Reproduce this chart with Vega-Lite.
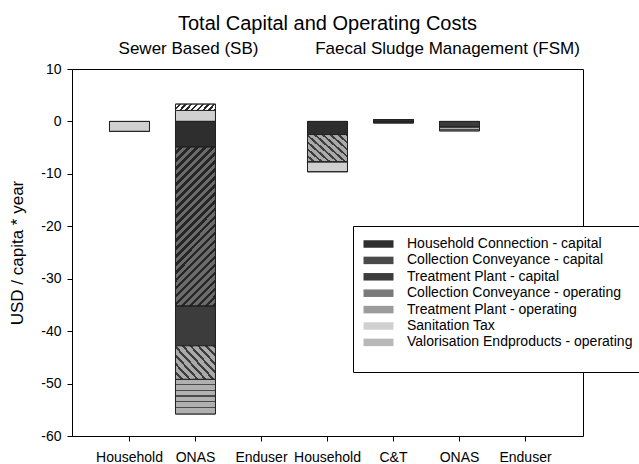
{
  "$schema": "https://vega.github.io/schema/vega-lite/v6.json",
  "width": 511,
  "height": 367,
  "autosize": {"type": "none"},
  "padding": {"left": 72, "top": 69, "right": 56, "bottom": 28},
  "background": "white",
  "config": {
    "font": "Liberation Sans",
    "view": {"stroke": "black", "strokeWidth": 1},
    "axis": {"domainColor": "black", "tickColor": "black", "labelColor": "black", "titleColor": "black", "grid": false, "labelFontSize": 14, "labelFont": "Liberation Sans", "titleFont": "Liberation Sans", "titleFontWeight": "normal"}
  },
  "title": {"text": "Total Capital and Operating Costs", "fontSize": 20, "fontWeight": "normal", "font": "Liberation Sans", "anchor": "middle", "offset": 6, "color": "black"},
  "datasets": {
    "costs": [
      {"cat": "SB Household", "comp": "Sanitation Tax", "ord": 6, "value": -1.9},
      {"cat": "SB ONAS", "comp": "Household Connection - capital", "ord": 1, "value": -4.9},
      {"cat": "SB ONAS", "comp": "Collection Conveyance - capital", "ord": 2, "value": -30.3},
      {"cat": "SB ONAS", "comp": "Treatment Plant - capital", "ord": 3, "value": -7.6},
      {"cat": "SB ONAS", "comp": "Collection Conveyance - operating", "ord": 4, "value": -6.4},
      {"cat": "SB ONAS", "comp": "Treatment Plant - operating", "ord": 5, "value": -6.6},
      {"cat": "SB ONAS", "comp": "Sanitation Tax", "ord": 6, "value": 2.1},
      {"cat": "SB ONAS", "comp": "Valorisation Endproducts - operating", "ord": 7, "value": 1.2},
      {"cat": "FSM Household", "comp": "Household Connection - capital", "ord": 1, "value": -2.5},
      {"cat": "FSM Household", "comp": "Collection Conveyance - operating", "ord": 4, "value": -5.2},
      {"cat": "FSM Household", "comp": "Sanitation Tax", "ord": 6, "value": -1.9},
      {"cat": "FSM C&T", "comp": "Treatment Plant - capital", "ord": 3, "value": 0.35},
      {"cat": "FSM C&T", "comp": "Treatment Plant - capital", "ord": 3, "value": -0.3},
      {"cat": "FSM ONAS", "comp": "Treatment Plant - capital", "ord": 3, "value": -1.1},
      {"cat": "FSM ONAS", "comp": "Treatment Plant - operating", "ord": 5, "value": -0.7}
    ]
  },
  "layer": [
    {
      "data": {"name": "costs"},
      "mark": {"type": "bar", "stroke": "#222222", "strokeWidth": 1},
      "encoding": {
        "x": {
          "field": "cat", "type": "nominal",
          "scale": {"domain": ["SB Household", "SB ONAS", "SB Enduser", "FSM Household", "FSM C&T", "FSM ONAS", "FSM Enduser"], "paddingInner": 0.394, "paddingOuter": 0.568},
          "axis": {"title": null, "labelAngle": 0, "labelExpr": "split(datum.value, ' ')[1]", "tickSize": 5, "labelPadding": 9, "domain": false}
        },
        "y": {
          "field": "value", "type": "quantitative", "stack": "zero",
          "scale": {"domain": [-60, 10], "nice": false},
          "axis": {"title": "USD / capita * year", "titleFontSize": 17, "values": [-60, -50, -40, -30, -20, -10, 0, 10], "labelExpr": "datum.value + ''", "tickSize": 5, "labelPadding": 6, "titlePadding": 14}
        },
        "color": {
          "field": "comp", "type": "nominal",
          "scale": {
            "domain": ["Household Connection - capital", "Collection Conveyance - capital", "Treatment Plant - capital", "Collection Conveyance - operating", "Treatment Plant - operating", "Sanitation Tax", "Valorisation Endproducts - operating"],
            "range": ["#2e2e2e", "#4a4a4a", "#3c3c3c", "#7a7a7a", "#9c9c9c", "#d0d0d0", "#b8b8b8"]
          },
          "legend": {
            "title": " ", "titleOrient": "bottom", "titleFontSize": 10, "titlePadding": 3,
            "orient": "none", "legendX": 281, "legendY": 157,
            "padding": 10, "strokeColor": "black", "fillColor": "white",
            "labelFontSize": 14, "labelFont": "Liberation Sans", "labelColor": "black", "labelLimit": 400,
            "symbolType": "M-2,-0.5H2V0.5H-2Z", "symbolSize": 225, "symbolStrokeColor": "#222222", "symbolStrokeWidth": 1, "symbolOpacity": 1,
            "symbolOffset": 7.5, "labelOffset": 20.5, "rowPadding": 1.4,
            "encode": {
              "symbols": {
                "update": {
                  "fill": {
                    "condition": [
                      {"test": "datum.value === 'Household Connection - capital'", "value": "#2e2e2e"},
                      {"test": "datum.value === 'Sanitation Tax'", "value": "#d0d0d0"},
                      {"test": "datum.value === 'Collection Conveyance - capital'", "value": {"gradient": "linear", "x1": 0, "y1": 0, "x2": 1.183, "y2": 0.315, "stops": [
                        {"offset": 0, "color": "#6b6b6b"}, {"offset": 0.092, "color": "#6b6b6b"}, {"offset": 0.092, "color": "#262626"}, {"offset": 0.167, "color": "#262626"},
                        {"offset": 0.167, "color": "#6b6b6b"}, {"offset": 0.258, "color": "#6b6b6b"}, {"offset": 0.258, "color": "#262626"}, {"offset": 0.333, "color": "#262626"},
                        {"offset": 0.333, "color": "#6b6b6b"}, {"offset": 0.425, "color": "#6b6b6b"}, {"offset": 0.425, "color": "#262626"}, {"offset": 0.5, "color": "#262626"},
                        {"offset": 0.5, "color": "#6b6b6b"}, {"offset": 0.592, "color": "#6b6b6b"}, {"offset": 0.592, "color": "#262626"}, {"offset": 0.667, "color": "#262626"},
                        {"offset": 0.667, "color": "#6b6b6b"}, {"offset": 0.758, "color": "#6b6b6b"}, {"offset": 0.758, "color": "#262626"}, {"offset": 0.833, "color": "#262626"},
                        {"offset": 0.833, "color": "#6b6b6b"}, {"offset": 0.925, "color": "#6b6b6b"}, {"offset": 0.925, "color": "#262626"}, {"offset": 1, "color": "#262626"}
                      ]}},
                      {"test": "datum.value === 'Collection Conveyance - operating'", "value": {"gradient": "linear", "x1": 0, "y1": 1, "x2": 1.183, "y2": 0.685, "stops": [
                        {"offset": 0, "color": "#a9a9a9"}, {"offset": 0.108, "color": "#a9a9a9"}, {"offset": 0.108, "color": "#3c3c3c"}, {"offset": 0.167, "color": "#3c3c3c"},
                        {"offset": 0.167, "color": "#a9a9a9"}, {"offset": 0.275, "color": "#a9a9a9"}, {"offset": 0.275, "color": "#3c3c3c"}, {"offset": 0.333, "color": "#3c3c3c"},
                        {"offset": 0.333, "color": "#a9a9a9"}, {"offset": 0.442, "color": "#a9a9a9"}, {"offset": 0.442, "color": "#3c3c3c"}, {"offset": 0.5, "color": "#3c3c3c"},
                        {"offset": 0.5, "color": "#a9a9a9"}, {"offset": 0.608, "color": "#a9a9a9"}, {"offset": 0.608, "color": "#3c3c3c"}, {"offset": 0.667, "color": "#3c3c3c"},
                        {"offset": 0.667, "color": "#a9a9a9"}, {"offset": 0.775, "color": "#a9a9a9"}, {"offset": 0.775, "color": "#3c3c3c"}, {"offset": 0.833, "color": "#3c3c3c"},
                        {"offset": 0.833, "color": "#a9a9a9"}, {"offset": 0.942, "color": "#a9a9a9"}, {"offset": 0.942, "color": "#3c3c3c"}, {"offset": 1, "color": "#3c3c3c"}
                      ]}},
                      {"test": "datum.value === 'Treatment Plant - operating'", "value": {"gradient": "linear", "x1": 0, "y1": 0, "x2": 0, "y2": 1, "stops": [
                        {"offset": 0, "color": "#b0b0b0"}, {"offset": 0.3, "color": "#b0b0b0"}, {"offset": 0.3, "color": "#4a4a4a"}, {"offset": 0.42, "color": "#4a4a4a"},
                        {"offset": 0.42, "color": "#b0b0b0"}, {"offset": 0.62, "color": "#b0b0b0"}, {"offset": 0.62, "color": "#4a4a4a"}, {"offset": 0.74, "color": "#4a4a4a"},
                        {"offset": 0.74, "color": "#b0b0b0"}, {"offset": 1, "color": "#b0b0b0"}
                      ]}},
                      {"test": "datum.value === 'Valorisation Endproducts - operating'", "value": {"gradient": "linear", "x1": 0, "y1": 0, "x2": 1.183, "y2": 0.315, "stops": [
                        {"offset": 0, "color": "#ffffff"}, {"offset": 0.1, "color": "#ffffff"}, {"offset": 0.1, "color": "#2a2a2a"}, {"offset": 0.167, "color": "#2a2a2a"},
                        {"offset": 0.167, "color": "#ffffff"}, {"offset": 0.267, "color": "#ffffff"}, {"offset": 0.267, "color": "#2a2a2a"}, {"offset": 0.333, "color": "#2a2a2a"},
                        {"offset": 0.333, "color": "#ffffff"}, {"offset": 0.433, "color": "#ffffff"}, {"offset": 0.433, "color": "#2a2a2a"}, {"offset": 0.5, "color": "#2a2a2a"},
                        {"offset": 0.5, "color": "#ffffff"}, {"offset": 0.6, "color": "#ffffff"}, {"offset": 0.6, "color": "#2a2a2a"}, {"offset": 0.667, "color": "#2a2a2a"},
                        {"offset": 0.667, "color": "#ffffff"}, {"offset": 0.767, "color": "#ffffff"}, {"offset": 0.767, "color": "#2a2a2a"}, {"offset": 0.833, "color": "#2a2a2a"},
                        {"offset": 0.833, "color": "#ffffff"}, {"offset": 0.933, "color": "#ffffff"}, {"offset": 0.933, "color": "#2a2a2a"}, {"offset": 1, "color": "#2a2a2a"}
                      ]}}
                    ],
                    "value": "#3c3c3c"
                  }
                }
              }
            }
          }
        },
        "order": {"field": "ord", "type": "quantitative"}
      }
    },
    {
      "data": {"name": "costs"},
      "mark": {"type": "bar", "stroke": "#222222", "strokeWidth": 1},
      "encoding": {
        "x": {"field": "cat", "type": "nominal"},
        "y": {"field": "value", "type": "quantitative", "stack": "zero"},
        "order": {"field": "ord", "type": "quantitative"},
        "fill": {
          "condition": [
            {"test": "datum.comp === 'Collection Conveyance - capital'", "value": {"gradient": "linear", "x1": 0, "y1": 0, "x2": 0.298, "y2": 1.178, "stops": [
                {"offset": 0, "color": "#6b6b6b"}, {"offset": 0.022, "color": "#6b6b6b"}, {"offset": 0.022, "color": "#262626"}, {"offset": 0.04, "color": "#262626"},
                {"offset": 0.04, "color": "#6b6b6b"}, {"offset": 0.062, "color": "#6b6b6b"}, {"offset": 0.062, "color": "#262626"}, {"offset": 0.08, "color": "#262626"},
                {"offset": 0.08, "color": "#6b6b6b"}, {"offset": 0.102, "color": "#6b6b6b"}, {"offset": 0.102, "color": "#262626"}, {"offset": 0.12, "color": "#262626"},
                {"offset": 0.12, "color": "#6b6b6b"}, {"offset": 0.142, "color": "#6b6b6b"}, {"offset": 0.142, "color": "#262626"}, {"offset": 0.16, "color": "#262626"},
                {"offset": 0.16, "color": "#6b6b6b"}, {"offset": 0.182, "color": "#6b6b6b"}, {"offset": 0.182, "color": "#262626"}, {"offset": 0.2, "color": "#262626"},
                {"offset": 0.2, "color": "#6b6b6b"}, {"offset": 0.222, "color": "#6b6b6b"}, {"offset": 0.222, "color": "#262626"}, {"offset": 0.24, "color": "#262626"},
                {"offset": 0.24, "color": "#6b6b6b"}, {"offset": 0.262, "color": "#6b6b6b"}, {"offset": 0.262, "color": "#262626"}, {"offset": 0.28, "color": "#262626"},
                {"offset": 0.28, "color": "#6b6b6b"}, {"offset": 0.302, "color": "#6b6b6b"}, {"offset": 0.302, "color": "#262626"}, {"offset": 0.32, "color": "#262626"},
                {"offset": 0.32, "color": "#6b6b6b"}, {"offset": 0.342, "color": "#6b6b6b"}, {"offset": 0.342, "color": "#262626"}, {"offset": 0.36, "color": "#262626"},
                {"offset": 0.36, "color": "#6b6b6b"}, {"offset": 0.382, "color": "#6b6b6b"}, {"offset": 0.382, "color": "#262626"}, {"offset": 0.4, "color": "#262626"},
                {"offset": 0.4, "color": "#6b6b6b"}, {"offset": 0.422, "color": "#6b6b6b"}, {"offset": 0.422, "color": "#262626"}, {"offset": 0.44, "color": "#262626"},
                {"offset": 0.44, "color": "#6b6b6b"}, {"offset": 0.462, "color": "#6b6b6b"}, {"offset": 0.462, "color": "#262626"}, {"offset": 0.48, "color": "#262626"},
                {"offset": 0.48, "color": "#6b6b6b"}, {"offset": 0.502, "color": "#6b6b6b"}, {"offset": 0.502, "color": "#262626"}, {"offset": 0.52, "color": "#262626"},
                {"offset": 0.52, "color": "#6b6b6b"}, {"offset": 0.542, "color": "#6b6b6b"}, {"offset": 0.542, "color": "#262626"}, {"offset": 0.56, "color": "#262626"},
                {"offset": 0.56, "color": "#6b6b6b"}, {"offset": 0.582, "color": "#6b6b6b"}, {"offset": 0.582, "color": "#262626"}, {"offset": 0.6, "color": "#262626"},
                {"offset": 0.6, "color": "#6b6b6b"}, {"offset": 0.622, "color": "#6b6b6b"}, {"offset": 0.622, "color": "#262626"}, {"offset": 0.64, "color": "#262626"},
                {"offset": 0.64, "color": "#6b6b6b"}, {"offset": 0.662, "color": "#6b6b6b"}, {"offset": 0.662, "color": "#262626"}, {"offset": 0.68, "color": "#262626"},
                {"offset": 0.68, "color": "#6b6b6b"}, {"offset": 0.702, "color": "#6b6b6b"}, {"offset": 0.702, "color": "#262626"}, {"offset": 0.72, "color": "#262626"},
                {"offset": 0.72, "color": "#6b6b6b"}, {"offset": 0.742, "color": "#6b6b6b"}, {"offset": 0.742, "color": "#262626"}, {"offset": 0.76, "color": "#262626"},
                {"offset": 0.76, "color": "#6b6b6b"}, {"offset": 0.782, "color": "#6b6b6b"}, {"offset": 0.782, "color": "#262626"}, {"offset": 0.8, "color": "#262626"},
                {"offset": 0.8, "color": "#6b6b6b"}, {"offset": 0.822, "color": "#6b6b6b"}, {"offset": 0.822, "color": "#262626"}, {"offset": 0.84, "color": "#262626"},
                {"offset": 0.84, "color": "#6b6b6b"}, {"offset": 0.862, "color": "#6b6b6b"}, {"offset": 0.862, "color": "#262626"}, {"offset": 0.88, "color": "#262626"},
                {"offset": 0.88, "color": "#6b6b6b"}, {"offset": 0.902, "color": "#6b6b6b"}, {"offset": 0.902, "color": "#262626"}, {"offset": 0.92, "color": "#262626"},
                {"offset": 0.92, "color": "#6b6b6b"}, {"offset": 0.942, "color": "#6b6b6b"}, {"offset": 0.942, "color": "#262626"}, {"offset": 0.96, "color": "#262626"},
                {"offset": 0.96, "color": "#6b6b6b"}, {"offset": 0.982, "color": "#6b6b6b"}, {"offset": 0.982, "color": "#262626"}, {"offset": 1, "color": "#262626"}
              ]}},
            {"test": "datum.comp === 'Collection Conveyance - operating'", "value": {"gradient": "linear", "x1": 0, "y1": 1, "x2": 1.111, "y2": 0.145, "stops": [
                {"offset": 0, "color": "#a9a9a9"}, {"offset": 0.072, "color": "#a9a9a9"}, {"offset": 0.072, "color": "#3c3c3c"}, {"offset": 0.111, "color": "#3c3c3c"},
                {"offset": 0.111, "color": "#a9a9a9"}, {"offset": 0.183, "color": "#a9a9a9"}, {"offset": 0.183, "color": "#3c3c3c"}, {"offset": 0.222, "color": "#3c3c3c"},
                {"offset": 0.222, "color": "#a9a9a9"}, {"offset": 0.294, "color": "#a9a9a9"}, {"offset": 0.294, "color": "#3c3c3c"}, {"offset": 0.333, "color": "#3c3c3c"},
                {"offset": 0.333, "color": "#a9a9a9"}, {"offset": 0.405, "color": "#a9a9a9"}, {"offset": 0.405, "color": "#3c3c3c"}, {"offset": 0.444, "color": "#3c3c3c"},
                {"offset": 0.444, "color": "#a9a9a9"}, {"offset": 0.516, "color": "#a9a9a9"}, {"offset": 0.516, "color": "#3c3c3c"}, {"offset": 0.556, "color": "#3c3c3c"},
                {"offset": 0.556, "color": "#a9a9a9"}, {"offset": 0.628, "color": "#a9a9a9"}, {"offset": 0.628, "color": "#3c3c3c"}, {"offset": 0.667, "color": "#3c3c3c"},
                {"offset": 0.667, "color": "#a9a9a9"}, {"offset": 0.739, "color": "#a9a9a9"}, {"offset": 0.739, "color": "#3c3c3c"}, {"offset": 0.778, "color": "#3c3c3c"},
                {"offset": 0.778, "color": "#a9a9a9"}, {"offset": 0.85, "color": "#a9a9a9"}, {"offset": 0.85, "color": "#3c3c3c"}, {"offset": 0.889, "color": "#3c3c3c"},
                {"offset": 0.889, "color": "#a9a9a9"}, {"offset": 0.961, "color": "#a9a9a9"}, {"offset": 0.961, "color": "#3c3c3c"}, {"offset": 1, "color": "#3c3c3c"}
              ]}},
            {"test": "datum.comp === 'Treatment Plant - operating'", "value": {"gradient": "linear", "x1": 0, "y1": 0, "x2": 0, "y2": 1, "stops": [
                {"offset": 0, "color": "#b0b0b0"}, {"offset": 0.127, "color": "#b0b0b0"}, {"offset": 0.127, "color": "#4a4a4a"}, {"offset": 0.167, "color": "#4a4a4a"},
                {"offset": 0.167, "color": "#b0b0b0"}, {"offset": 0.294, "color": "#b0b0b0"}, {"offset": 0.294, "color": "#4a4a4a"}, {"offset": 0.333, "color": "#4a4a4a"},
                {"offset": 0.333, "color": "#b0b0b0"}, {"offset": 0.46, "color": "#b0b0b0"}, {"offset": 0.46, "color": "#4a4a4a"}, {"offset": 0.5, "color": "#4a4a4a"},
                {"offset": 0.5, "color": "#b0b0b0"}, {"offset": 0.627, "color": "#b0b0b0"}, {"offset": 0.627, "color": "#4a4a4a"}, {"offset": 0.667, "color": "#4a4a4a"},
                {"offset": 0.667, "color": "#b0b0b0"}, {"offset": 0.794, "color": "#b0b0b0"}, {"offset": 0.794, "color": "#4a4a4a"}, {"offset": 0.833, "color": "#4a4a4a"},
                {"offset": 0.833, "color": "#b0b0b0"}, {"offset": 1, "color": "#b0b0b0"}
              ]}},
            {"test": "datum.comp === 'Valorisation Endproducts - operating'", "value": {"gradient": "linear", "x1": 0, "y1": 0, "x2": 1.124, "y2": 0.1686, "stops": [
                {"offset": 0, "color": "#ffffff"}, {"offset": 0.075, "color": "#ffffff"}, {"offset": 0.075, "color": "#2a2a2a"}, {"offset": 0.125, "color": "#2a2a2a"},
                {"offset": 0.125, "color": "#ffffff"}, {"offset": 0.2, "color": "#ffffff"}, {"offset": 0.2, "color": "#2a2a2a"}, {"offset": 0.25, "color": "#2a2a2a"},
                {"offset": 0.25, "color": "#ffffff"}, {"offset": 0.325, "color": "#ffffff"}, {"offset": 0.325, "color": "#2a2a2a"}, {"offset": 0.375, "color": "#2a2a2a"},
                {"offset": 0.375, "color": "#ffffff"}, {"offset": 0.45, "color": "#ffffff"}, {"offset": 0.45, "color": "#2a2a2a"}, {"offset": 0.5, "color": "#2a2a2a"},
                {"offset": 0.5, "color": "#ffffff"}, {"offset": 0.575, "color": "#ffffff"}, {"offset": 0.575, "color": "#2a2a2a"}, {"offset": 0.625, "color": "#2a2a2a"},
                {"offset": 0.625, "color": "#ffffff"}, {"offset": 0.7, "color": "#ffffff"}, {"offset": 0.7, "color": "#2a2a2a"}, {"offset": 0.75, "color": "#2a2a2a"},
                {"offset": 0.75, "color": "#ffffff"}, {"offset": 0.825, "color": "#ffffff"}, {"offset": 0.825, "color": "#2a2a2a"}, {"offset": 0.875, "color": "#2a2a2a"},
                {"offset": 0.875, "color": "#ffffff"}, {"offset": 0.95, "color": "#ffffff"}, {"offset": 0.95, "color": "#2a2a2a"}, {"offset": 1, "color": "#2a2a2a"}
              ]}}
          ],
          "value": "transparent"
        }
      }
    },
    {
      "mark": {"type": "rule", "color": "black", "strokeWidth": 1},
      "encoding": {"y": {"datum": 0}}
    },
    {
      "mark": {"type": "rule", "color": "black", "strokeWidth": 2, "strokeDash": [14, 6]},
      "encoding": {"x": {"datum": "FSM Household", "bandPosition": -0.2}}
    },
    {
      "data": {"values": [{"label": "Sewer Based (SB)"}]},
      "mark": {"type": "text", "fontSize": 17, "font": "Liberation Sans", "baseline": "bottom", "dy": -11, "dx": -7, "color": "black"},
      "encoding": {
        "x": {"datum": "SB ONAS"},
        "y": {"datum": 10},
        "text": {"field": "label"}
      }
    },
    {
      "data": {"values": [{"label": "Faecal Sludge Management (FSM)"}]},
      "mark": {"type": "text", "fontSize": 17, "font": "Liberation Sans", "baseline": "bottom", "dy": -11, "dx": -12, "color": "black"},
      "encoding": {
        "x": {"datum": "FSM ONAS"},
        "y": {"datum": 10},
        "text": {"field": "label"}
      }
    }
  ]
}
